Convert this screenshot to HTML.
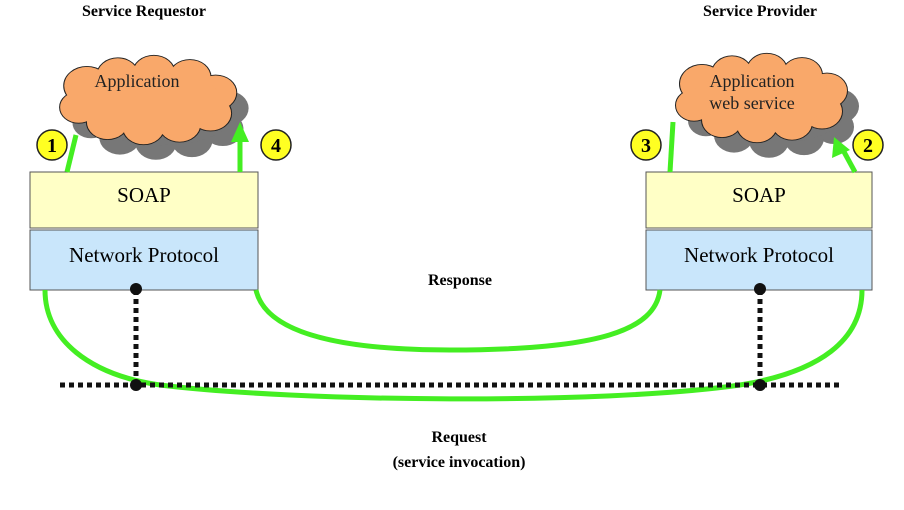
<!DOCTYPE html>
<html><head><style>
html,body{margin:0;padding:0;background:#fff;}
svg{display:block;}
text{font-family:"Liberation Serif",serif;}
</style></head><body>
<svg width="904" height="510" viewBox="0 0 904 510" xmlns="http://www.w3.org/2000/svg">
<defs>
<g id="cloud">
<circle cx="30" cy="30" r="22"/><circle cx="60" cy="18" r="20"/><circle cx="95" cy="15" r="20"/><circle cx="130" cy="20" r="20"/><circle cx="155" cy="38" r="20"/><circle cx="150" cy="62" r="20"/><circle cx="120" cy="75" r="20"/><circle cx="85" cy="78" r="20"/><circle cx="50" cy="72" r="20"/><circle cx="22" cy="55" r="18"/><ellipse cx="90" cy="46" rx="70" ry="35"/>
</g>
</defs>
<!-- left cloud -->
<g transform="translate(56,60) scale(1.03,0.86)">
<use href="#cloud" transform="translate(12,18)" fill="#777"/>
<use href="#cloud" fill="#222" stroke="#222" stroke-width="2"/>
<use href="#cloud" fill="#f9a86a"/>
</g>
<text x="137" y="87" font-size="18" text-anchor="middle" fill="#222">Application</text>
<!-- right cloud -->
<g transform="translate(672,58) scale(1.0,0.86)">
<use href="#cloud" transform="translate(12,18)" fill="#777"/>
<use href="#cloud" fill="#222" stroke="#222" stroke-width="2"/>
<use href="#cloud" fill="#f9a86a"/>
</g>
<text x="752" y="87" font-size="18" text-anchor="middle" fill="#222">Application</text>
<text x="752" y="109" font-size="18" text-anchor="middle" fill="#222">web service</text>
<text x="144" y="16" font-size="16" font-weight="bold" text-anchor="middle">Service Requestor</text>
<text x="760" y="16" font-size="16" font-weight="bold" text-anchor="middle">Service Provider</text>
<!-- boxes -->
<rect x="30" y="172" width="228" height="56" fill="#ffffc6" stroke="#555"/>
<rect x="30" y="230" width="228" height="60" fill="#c9e6fb" stroke="#555"/>
<rect x="646" y="172" width="226" height="56" fill="#ffffc6" stroke="#555"/>
<rect x="646" y="230" width="226" height="60" fill="#c9e6fb" stroke="#555"/>
<text x="144" y="202" font-size="21" text-anchor="middle">SOAP</text>
<text x="144" y="262" font-size="21" text-anchor="middle">Network Protocol</text>
<text x="759" y="202" font-size="21" text-anchor="middle">SOAP</text>
<text x="759" y="262" font-size="21" text-anchor="middle">Network Protocol</text>
<!-- green -->
<g fill="none" stroke="#44ee22" stroke-width="5">
<path d="M45 290 C45 340 90 375 160 385 C300 402 600 405 740 385 C820 372 862 340 862 290"/>
<path d="M256 290 C265 330 330 350 450 350 C600 350 655 330 660 290"/>
<path d="M67 172 L76 135"/>
<path d="M240 172 L240 140"/>
<path d="M670 172 L673 122"/>
<path d="M855 172 L843 150"/>
</g>
<polygon points="240,122 231,142 249,142" fill="#44ee22"/>
<polygon points="834,137 832,158 850,150" fill="#44ee22"/>
<!-- dotted -->
<g stroke="#111" stroke-width="5" stroke-dasharray="5,4">
<line x1="60" y1="385" x2="842" y2="385"/>
<line x1="136" y1="290" x2="136" y2="385"/>
<line x1="760" y1="290" x2="760" y2="385"/>
</g>
<g fill="#111"><circle cx="136" cy="289" r="6"/><circle cx="136" cy="385" r="6"/><circle cx="760" cy="289" r="6"/><circle cx="760" cy="385" r="6"/></g>
<!-- number circles -->
<g stroke="#222" stroke-width="1.5" fill="#ffff22">
<circle cx="52" cy="145" r="15"/><circle cx="276" cy="145" r="15"/><circle cx="646" cy="145" r="15"/><circle cx="868" cy="145" r="15"/>
</g>
<g font-size="20" font-weight="bold" text-anchor="middle">
<text x="52" y="152">1</text><text x="276" y="152">4</text><text x="646" y="152">3</text><text x="868" y="152">2</text>
</g>
<text x="460" y="285" font-size="16" font-weight="bold" text-anchor="middle">Response</text>
<text x="459" y="442" font-size="16" font-weight="bold" text-anchor="middle">Request</text>
<text x="459" y="467" font-size="16" font-weight="bold" text-anchor="middle">(service invocation)</text>
</svg>
</body></html>
